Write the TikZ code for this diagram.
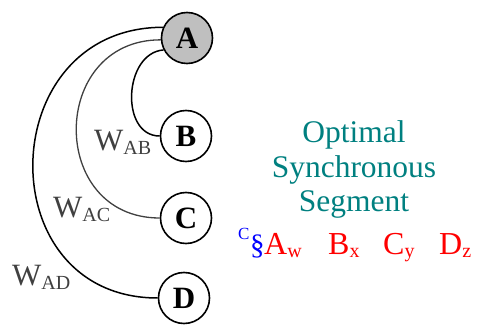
\documentclass[tikz,border=0pt]{standalone}
\usepackage{fontspec}
\setmainfont{Liberation Serif}
\definecolor{labelgray}{RGB}{64,64,64}
\definecolor{segteal}{RGB}{0,128,128}
\newcommand{\sz}[1]{\fontsize{#1}{#1}\selectfont}
\newcommand{\wsub}[1]{\raisebox{-4pt}{\sz{20}#1}}
\newcommand{\lowsub}[1]{\raisebox{-2pt}{\sz{20}#1}}
\begin{document}
\begin{tikzpicture}[x=1pt,y=-1pt,
  vertex/.style={circle, draw, line width=1.6pt, minimum size=51pt, inner sep=0pt,
                 font=\sz{31}\bfseries},
  edge/.style={line width=1.5pt},
  weight/.style={anchor=base west, inner sep=0pt, text=labelgray, font=\sz{31}},
  title/.style={anchor=base, inner sep=0pt, text=segteal, font=\sz{31.5}},
  seg/.style={anchor=base west, inner sep=0pt, text=red, font=\sz{32}}]
\useasboundingbox (0,0) rectangle (480,326);

% vertices
\node[vertex, fill=gray!50] (A) at (187,38) {A};
\node[vertex] (B) at (186,136) {B};
\node[vertex] (C) at (186,218) {C};
\node[vertex] (D) at (184,298) {D};

% arcs from A
\draw[edge] (A.207) .. controls +(-40,3) and +(-40,0) .. (B.west);
\draw[edge, line width=1.3pt, labelgray] (A.184) .. controls +(-112,0) and +(-112,0) .. (C.west);
\draw[edge] (A.156) .. controls +(-170,0) and +(-170,0) .. (D.west);

% weights
\node[weight] (wab) at (94,151) {W\wsub{AB}};
\node[weight] (wac) at (53,218) {W\wsub{AC}};
\node[weight] (wad) at (12,286) {W\wsub{AD}};

% caption
\node[title] (t1) at (354,143) {Optimal};
\node[title] (t2) at (354,178) {Synchronous};
\node[title] (t3) at (354,212) {Segment};

% segment members
\node[anchor=base west, inner sep=0pt, text=blue, font=\sz{17}] (sc) at (238,240) {C};
\node[anchor=base west, inner sep=0pt, text=blue, font=\sz{29}] (ss) at (250,255) {\S};
\node[seg] (sa) at (264,255) {A\lowsub{w}};
\node[seg] (sb) at (328,255) {B\lowsub{x}};
\node[seg] (scy) at (383,255) {C\lowsub{y}};
\node[seg] (sd) at (439,255) {D\lowsub{z}};
\end{tikzpicture}
\end{document}
